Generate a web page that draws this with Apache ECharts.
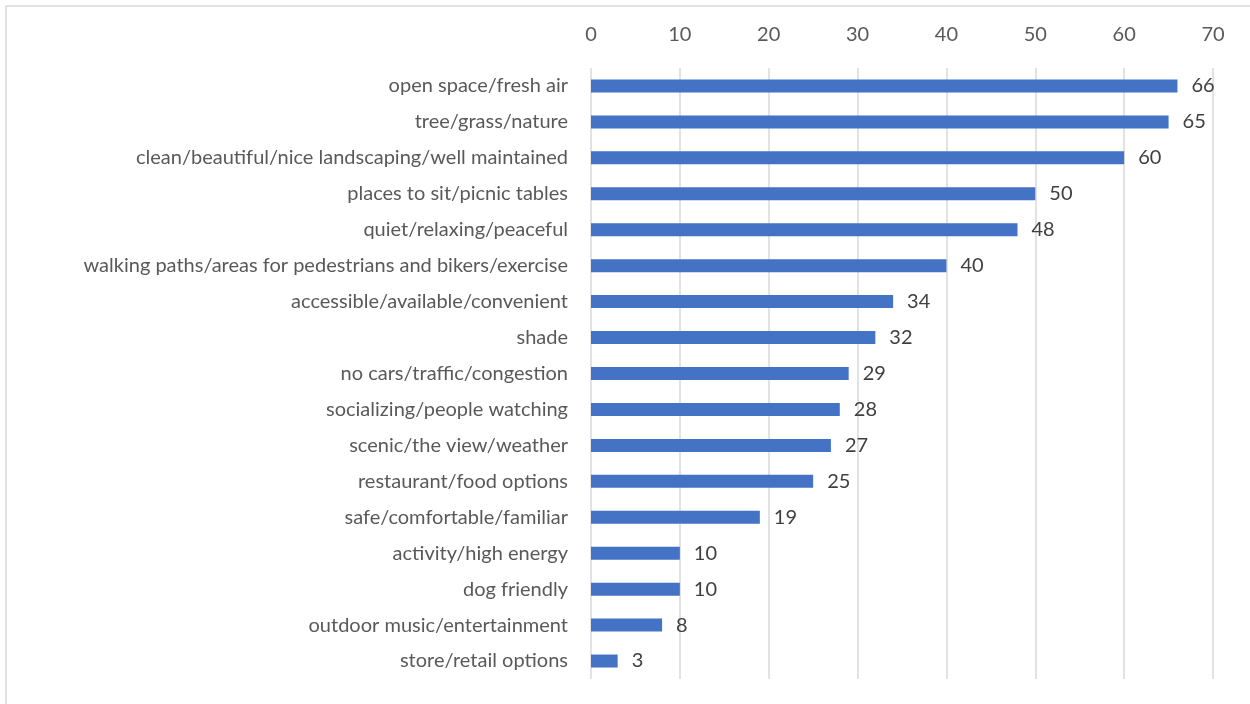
<!DOCTYPE html>
<html>
<head>
<meta charset="utf-8">
<script src="https://cdn.jsdelivr.net/npm/echarts@6/dist/echarts.min.js"></script>
<style>
html,body{margin:0;padding:0;background:#fff;}
#chart{width:1250px;height:704px;}
</style>
</head>
<body>
<div id="chart"></div>
<script>
const categories = [
  "open space/fresh air",
  "tree/grass/nature",
  "clean/beautiful/nice landscaping/well maintained",
  "places to sit/picnic tables",
  "quiet/relaxing/peaceful",
  "walking paths/areas for pedestrians and bikers/exercise",
  "accessible/available/convenient",
  "shade",
  "no cars/traffic/congestion",
  "socializing/people watching",
  "scenic/the view/weather",
  "restaurant/food options",
  "safe/comfortable/familiar",
  "activity/high energy",
  "dog friendly",
  "outdoor music/entertainment",
  "store/retail options"
];
const values = [66, 65, 60, 50, 48, 40, 34, 32, 29, 28, 27, 25, 19, 10, 10, 8, 3];
const xTicks = { min: 0, max: 70, interval: 10 };

const chart = echarts.init(document.getElementById('chart'), null, { renderer: 'canvas' });
const font = 'Lato, "Open Sans", sans-serif';
chart.setOption({
  animation: false,
  backgroundColor: '#ffffff',
  graphic: [{
    type: 'rect',
    shape: { x: 6, y: 6, width: 1300, height: 800 },
    style: { fill: 'none', stroke: '#d9d9d9', lineWidth: 1.5 },
    silent: true
  }],
  grid: { left: 591, right: 37, top: 68, bottom: 25, containLabel: false },
  xAxis: {
    type: 'value',
    position: 'top',
    min: xTicks.min, max: xTicks.max, interval: xTicks.interval,
    axisLine: { show: false },
    axisTick: { show: false },
    axisLabel: { color: '#595959', fontSize: 20, fontFamily: font, margin: 23 },
    splitLine: { show: true, lineStyle: { color: '#d9d9d9', width: 1.5 } }
  },
  yAxis: {
    type: 'category',
    data: categories,
    inverse: true,
    axisLine: { show: false },
    axisTick: { show: false },
    axisLabel: { color: '#595959', fontSize: 20, fontFamily: font, margin: 23, padding: [2, 0, 0, 0] },
    splitLine: { show: false }
  },
  series: [{
    type: 'bar',
    data: values,
    barWidth: 13,
    itemStyle: { color: '#4472c4' },
    label: {
      show: true, position: 'right', distance: 14,
      color: '#404040', fontSize: 20, fontFamily: font, padding: [4, 0, 0, 0]
    }
  }]
});
</script>
</body>
</html>
